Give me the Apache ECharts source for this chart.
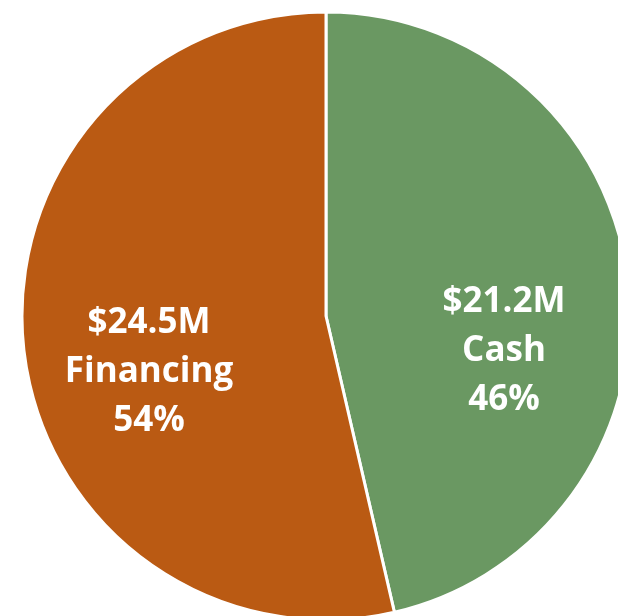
<!DOCTYPE html>
<html>
<head>
<meta charset="utf-8">
<script src="https://cdn.jsdelivr.net/npm/echarts@6/dist/echarts.min.js"></script>
<style>
  html, body { margin: 0; padding: 0; background: #fff; }
  #chart { width: 618px; height: 616px; }
</style>
</head>
<body>
<div id="chart"></div>
<script>
// funding split
const categories = ['Cash', 'Financing']
const values = [21.2, 24.5]
const colors = ['#6A9862', '#BA5A13']

const total = values.reduce((a, b) => a + b, 0)

const chart = echarts.init(document.getElementById('chart'))
chart.setOption({
  animation: false,
  color: colors,
  series: [{
    type: 'pie',
    center: [326, 316],
    radius: 304,
    startAngle: 90,
    clockwise: true,
    itemStyle: {
      borderColor: '#fff',
      borderWidth: 3
    },
    label: {
      position: 'inside',
      color: '#fff',
      fontFamily: 'Open Sans',
      fontWeight: 'bold',
      fontSize: 35,
      lineHeight: 49,
      formatter: p => '$' + p.value.toFixed(1) + 'M\n' + p.name + '\n' + Math.round(p.value / total * 100) + '%'
    },
    // nudge labels toward where the original sits
    labelLayout: p => p.dataIndex === 0 ? { dx: 24, dy: 53 } : { dx: -23, dy: 38 },
    data: categories.map((c, i) => ({ name: c, value: values[i] }))
  }]
})
</script>
</body>
</html>
